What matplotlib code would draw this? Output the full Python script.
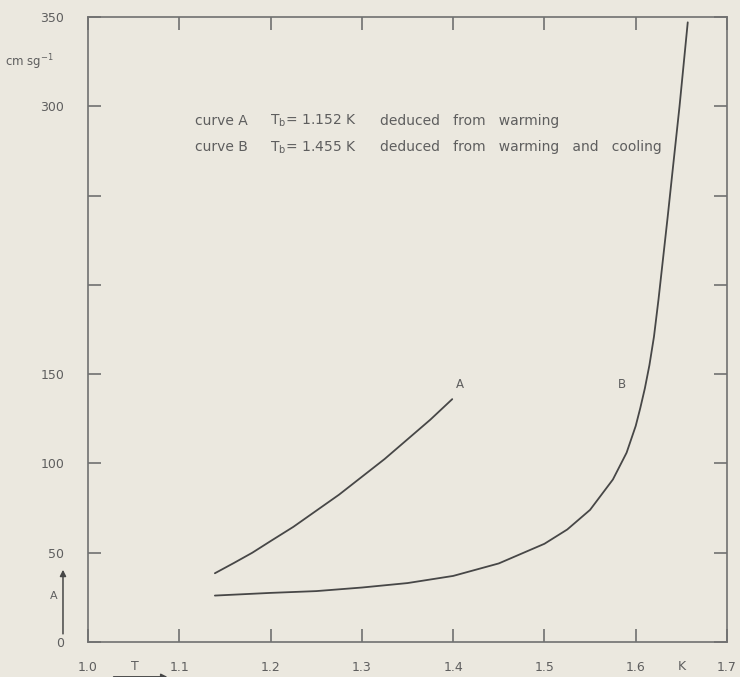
import matplotlib
matplotlib.use("Agg")
import matplotlib.pyplot as plt

# ---- data ----
curve_a_T = [1.139, 1.16, 1.18, 1.2, 1.225, 1.25, 1.275, 1.3, 1.325, 1.35, 1.375, 1.399]
curve_a_v = [38.5, 44.3, 50, 56.5, 64.5, 73.5, 82.5, 92.5, 102.5, 113.5, 124.5, 136]

curve_b_T = [1.139, 1.2, 1.25, 1.3, 1.35, 1.4, 1.45, 1.5, 1.525, 1.55, 1.575, 1.59, 1.6,
             1.605, 1.61, 1.615, 1.62, 1.625, 1.63, 1.635, 1.64, 1.648, 1.657]
curve_b_v = [26, 27.5, 28.5, 30.5, 33, 37, 44, 55, 63, 74, 91, 106, 121,
             131, 142, 155, 171, 192, 215, 238, 262, 300, 347]

x_ticks = [1.0, 1.1, 1.2, 1.3, 1.4, 1.5, 1.6, 1.7]
x_tick_labels = ["1.0", "1.1", "1.2", "1.3", "1.4", "1.5", "1.6", "1.7"]
y_ticks = [0, 50, 100, 150, 200, 250, 300, 350]
y_tick_labels = ["0", "50", "100", "150", "", "", "300", "350"]

cap_curve = ["curve A", "curve B"]
cap_tb = [r"T$_\mathregular{b}$= 1.152 K", r"T$_\mathregular{b}$= 1.455 K"]
cap_text = ["deduced   from   warming", "deduced   from   warming   and   cooling"]

BG = "#ebe8df"
AX = "#707070"
TXT = "#5e5e5e"
LINE = "#474747"

W, H = 740, 677
fig = plt.figure(figsize=(W / 100, H / 100), dpi=100, facecolor=BG)
L, R, T, B = 88, 727, 17, 642
ax = fig.add_axes([L / W, 1 - B / H, (R - L) / W, (B - T) / H], facecolor=BG)

ax.plot(curve_a_T, curve_a_v, color=LINE, lw=1.3, solid_capstyle="round", solid_joinstyle="round")
ax.plot(curve_b_T, curve_b_v, color=LINE, lw=1.3, solid_capstyle="round", solid_joinstyle="round")

ax.set_xlim(1.0, 1.7)
ax.set_ylim(0, 350)

for s in ax.spines.values():
    s.set_color(AX)
    s.set_linewidth(1.2)

ax.set_xticks(x_ticks)
ax.set_xticklabels(x_tick_labels)
ax.set_yticks(y_ticks)
ax.set_yticklabels(y_tick_labels)
ax.tick_params(axis="both", direction="in", length=9.5, width=1.2, color=AX,
               top=True, right=True, labelsize=9, labelcolor=TXT)
ax.tick_params(axis="x", pad=14)
ax.tick_params(axis="y", pad=17)

# extra axis labels
ax.text(1.051, -14, "T", ha="center", va="center", fontsize=9, color=TXT, clip_on=False)
ax.text(1.650, -14, "K", ha="center", va="center", fontsize=9, color=TXT, clip_on=False)
ax.text(-0.053, 0.928, r"cm sg$^{-1}$", transform=ax.transAxes, ha="right", va="center",
        fontsize=8.5, color=TXT)

# A arrow on left
ax.annotate("", xy=(0.9726, 42), xytext=(0.9726, 3), xycoords="data",
            arrowprops=dict(arrowstyle="-|>", color=LINE, lw=1.1, mutation_scale=9),
            annotation_clip=False)
ax.text(0.962, 26, "A", ha="center", va="center", fontsize=8, color=TXT, clip_on=False)

# T arrow under axis (mostly cut off by the page edge)
ax.annotate("", xy=(1.09, -19.5), xytext=(1.025, -19.5), xycoords="data",
            arrowprops=dict(arrowstyle="-|>", color=LINE, lw=1.1, mutation_scale=9),
            annotation_clip=False)

# curve labels
ax.text(1.407, 144, "A", ha="center", va="center", fontsize=8.5, color=TXT)
ax.text(1.585, 144, "B", ha="center", va="center", fontsize=8.5, color=TXT)

# captions
for i, yv in enumerate([292, 277]):
    ax.text(1.1172, yv, cap_curve[i], ha="left", va="center", fontsize=10, color=TXT)
    ax.text(1.1993, yv, cap_tb[i], ha="left", va="center", fontsize=10, color=TXT)
    ax.text(1.3198, yv, cap_text[i], ha="left", va="center", fontsize=10, color=TXT)

fig.savefig("out.png", dpi=100, facecolor=BG)
